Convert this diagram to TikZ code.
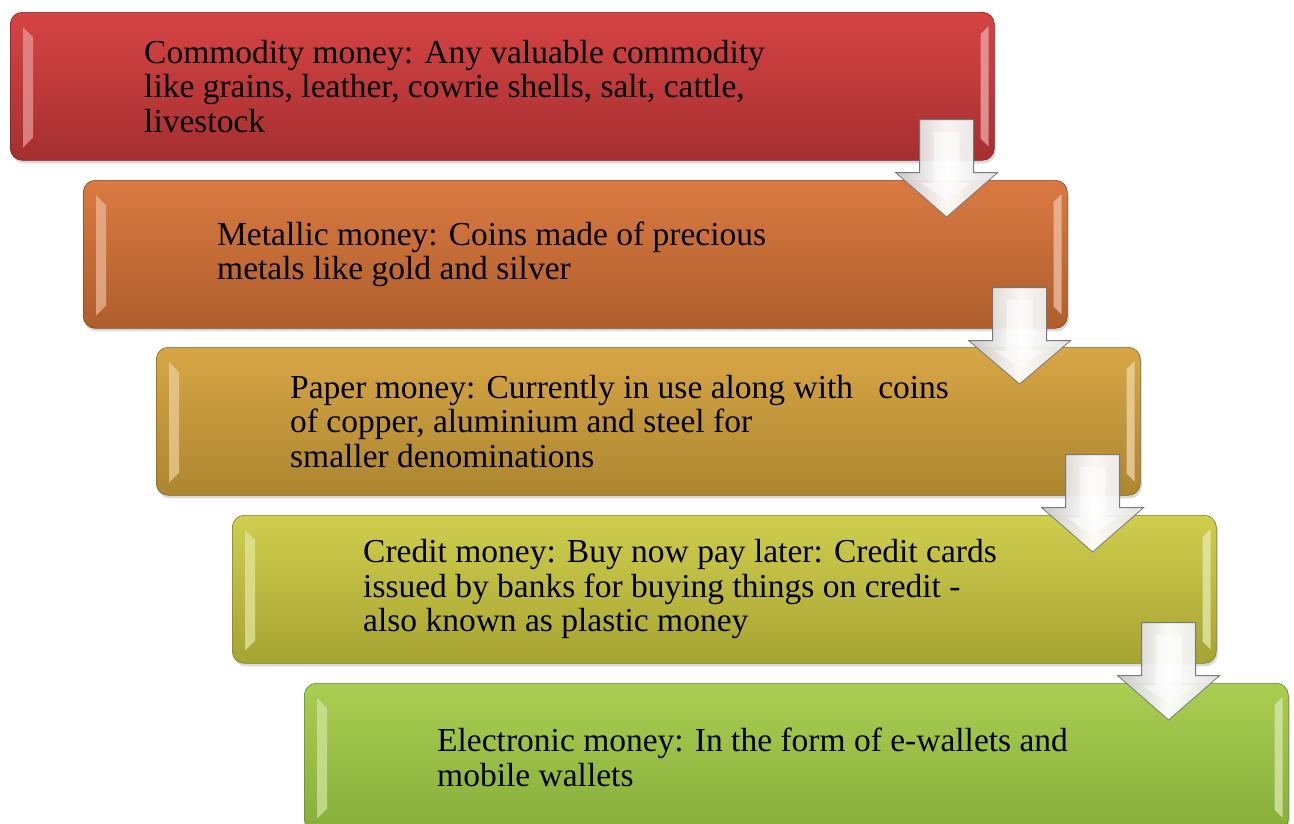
\documentclass[tikz,border=0pt]{standalone}
\usepackage{fontspec}
\setmainfont{Liberation Serif}
\usetikzlibrary{calc,shadows}
\definecolor{c1t}{HTML}{D64444}\definecolor{c1b}{HTML}{A52F30}
\definecolor{c2t}{HTML}{DA7A42}\definecolor{c2b}{HTML}{AE5E2C}
\definecolor{c3t}{HTML}{D8A646}\definecolor{c3b}{HTML}{AC8630}
\definecolor{c4t}{HTML}{D0CE4E}\definecolor{c4b}{HTML}{A6A432}
\definecolor{c5t}{HTML}{AACE52}\definecolor{c5b}{HTML}{86AE3A}
\tikzset{
  box/.style n args={2}{draw=#2!75!black, line width=0.6pt, rounded corners=12pt,
    minimum width=984pt, minimum height=148pt, anchor=north west, inner sep=0pt,
    top color=#1, bottom color=#2,
    drop shadow={shadow xshift=1.5pt, shadow yshift=-3pt, opacity=0.3}},
  txt/.style={anchor=west, align=left, inner sep=0pt, font=\fontsize{33.5}{34.5}\selectfont, text=black},
  hilite/.style={fill=#1, draw=none, opacity=0.75},
  arrowshape/.style={draw=black!55, line width=0.8pt, left color=black!22, right color=black!12, middle color=white, opacity=0.95},
  arrowface/.style={fill=white, draw=none, opacity=0.55}
}
\begin{document}
\begin{tikzpicture}[x=1pt,y=-1pt]
\useasboundingbox (0,0) rectangle (1294,823);
\node[box={c1t}{c1b}] (b1) at (10,12) {};
\node[box={c2t}{c2b}] (b2) at (83,180) {};
\node[box={c3t}{c3b}] (b3) at (156,347) {};
\node[box={c4t}{c4b}] (b4) at (232,515) {};
\node[box={c5t}{c5b}] (b5) at (304,683) {};
% bevel highlights
\foreach \b/\c in {b1/c1t,b2/c2t,b3/c3t,b4/c4t,b5/c5t}{
  \fill[hilite=\c!55!white] let \p1=(\b.north west), \p2=(\b.south west) in
    (\x1+13pt,\y1-15pt) -- (\x1+23pt,\y1-25pt) -- (\x1+23pt,\y2+23pt) -- (\x1+13pt,\y2+13pt) -- cycle;
  \fill[hilite=\c!45!white] let \p1=(\b.north east), \p2=(\b.south east) in
    (\x1-6pt,\y1-14pt) -- (\x1-14pt,\y1-22pt) -- (\x1-14pt,\y2+22pt) -- (\x1-6pt,\y2+14pt) -- cycle;
}
\node[txt] (t1) at ($(b1.west)+(134,0)$) {Commodity money: Any valuable commodity\\like grains, leather, cowrie shells, salt, cattle,\\livestock};
\node[txt] (t2) at ($(b2.west)+(134,0)$) {Metallic money: Coins made of precious\\metals like gold and silver};
\node[txt] (t3) at ($(b3.west)+(134,0)$) {Paper money: Currently in use along with\ \ \ coins\\of copper, aluminium and steel for\\smaller denominations};
\node[txt] (t4) at ($(b4.west)+(131,0)$) {Credit money: Buy now pay later: Credit cards\\issued by banks for buying things on credit -\\also known as plastic money};
\node[txt] (t5) at ($(b5.west)+(133,0)$) {Electronic money: In the form of e-wallets and\\mobile wallets};
% arrows
\foreach \a/\b in {b1/b2,b2/b3,b3/b4,b4/b5}{
  \draw[arrowshape] let \p1=($(\a.south east)+(-48,0)$), \p2=(\b.north) in
    (\x1-27pt,\y1+41pt) -- (\x1+27pt,\y1+41pt) -- (\x1+27pt,\y1-12pt) -- (\x1+51pt,\y1-12pt)
    -- (\x1,\y2-37pt) -- (\x1-51pt,\y1-12pt) -- (\x1-27pt,\y1-12pt) -- cycle;
  \fill[arrowface] let \p1=($(\a.south east)+(-48,0)$), \p2=(\b.north) in
    (\x1-13pt,\y1+29pt) -- (\x1+13pt,\y1+29pt) -- (\x1+13pt,\y1-22pt) -- (\x1+26pt,\y1-22pt)
    -- (\x1,\y2-20pt) -- (\x1-26pt,\y1-22pt) -- (\x1-13pt,\y1-22pt) -- cycle;
}
\end{tikzpicture}
\end{document}
